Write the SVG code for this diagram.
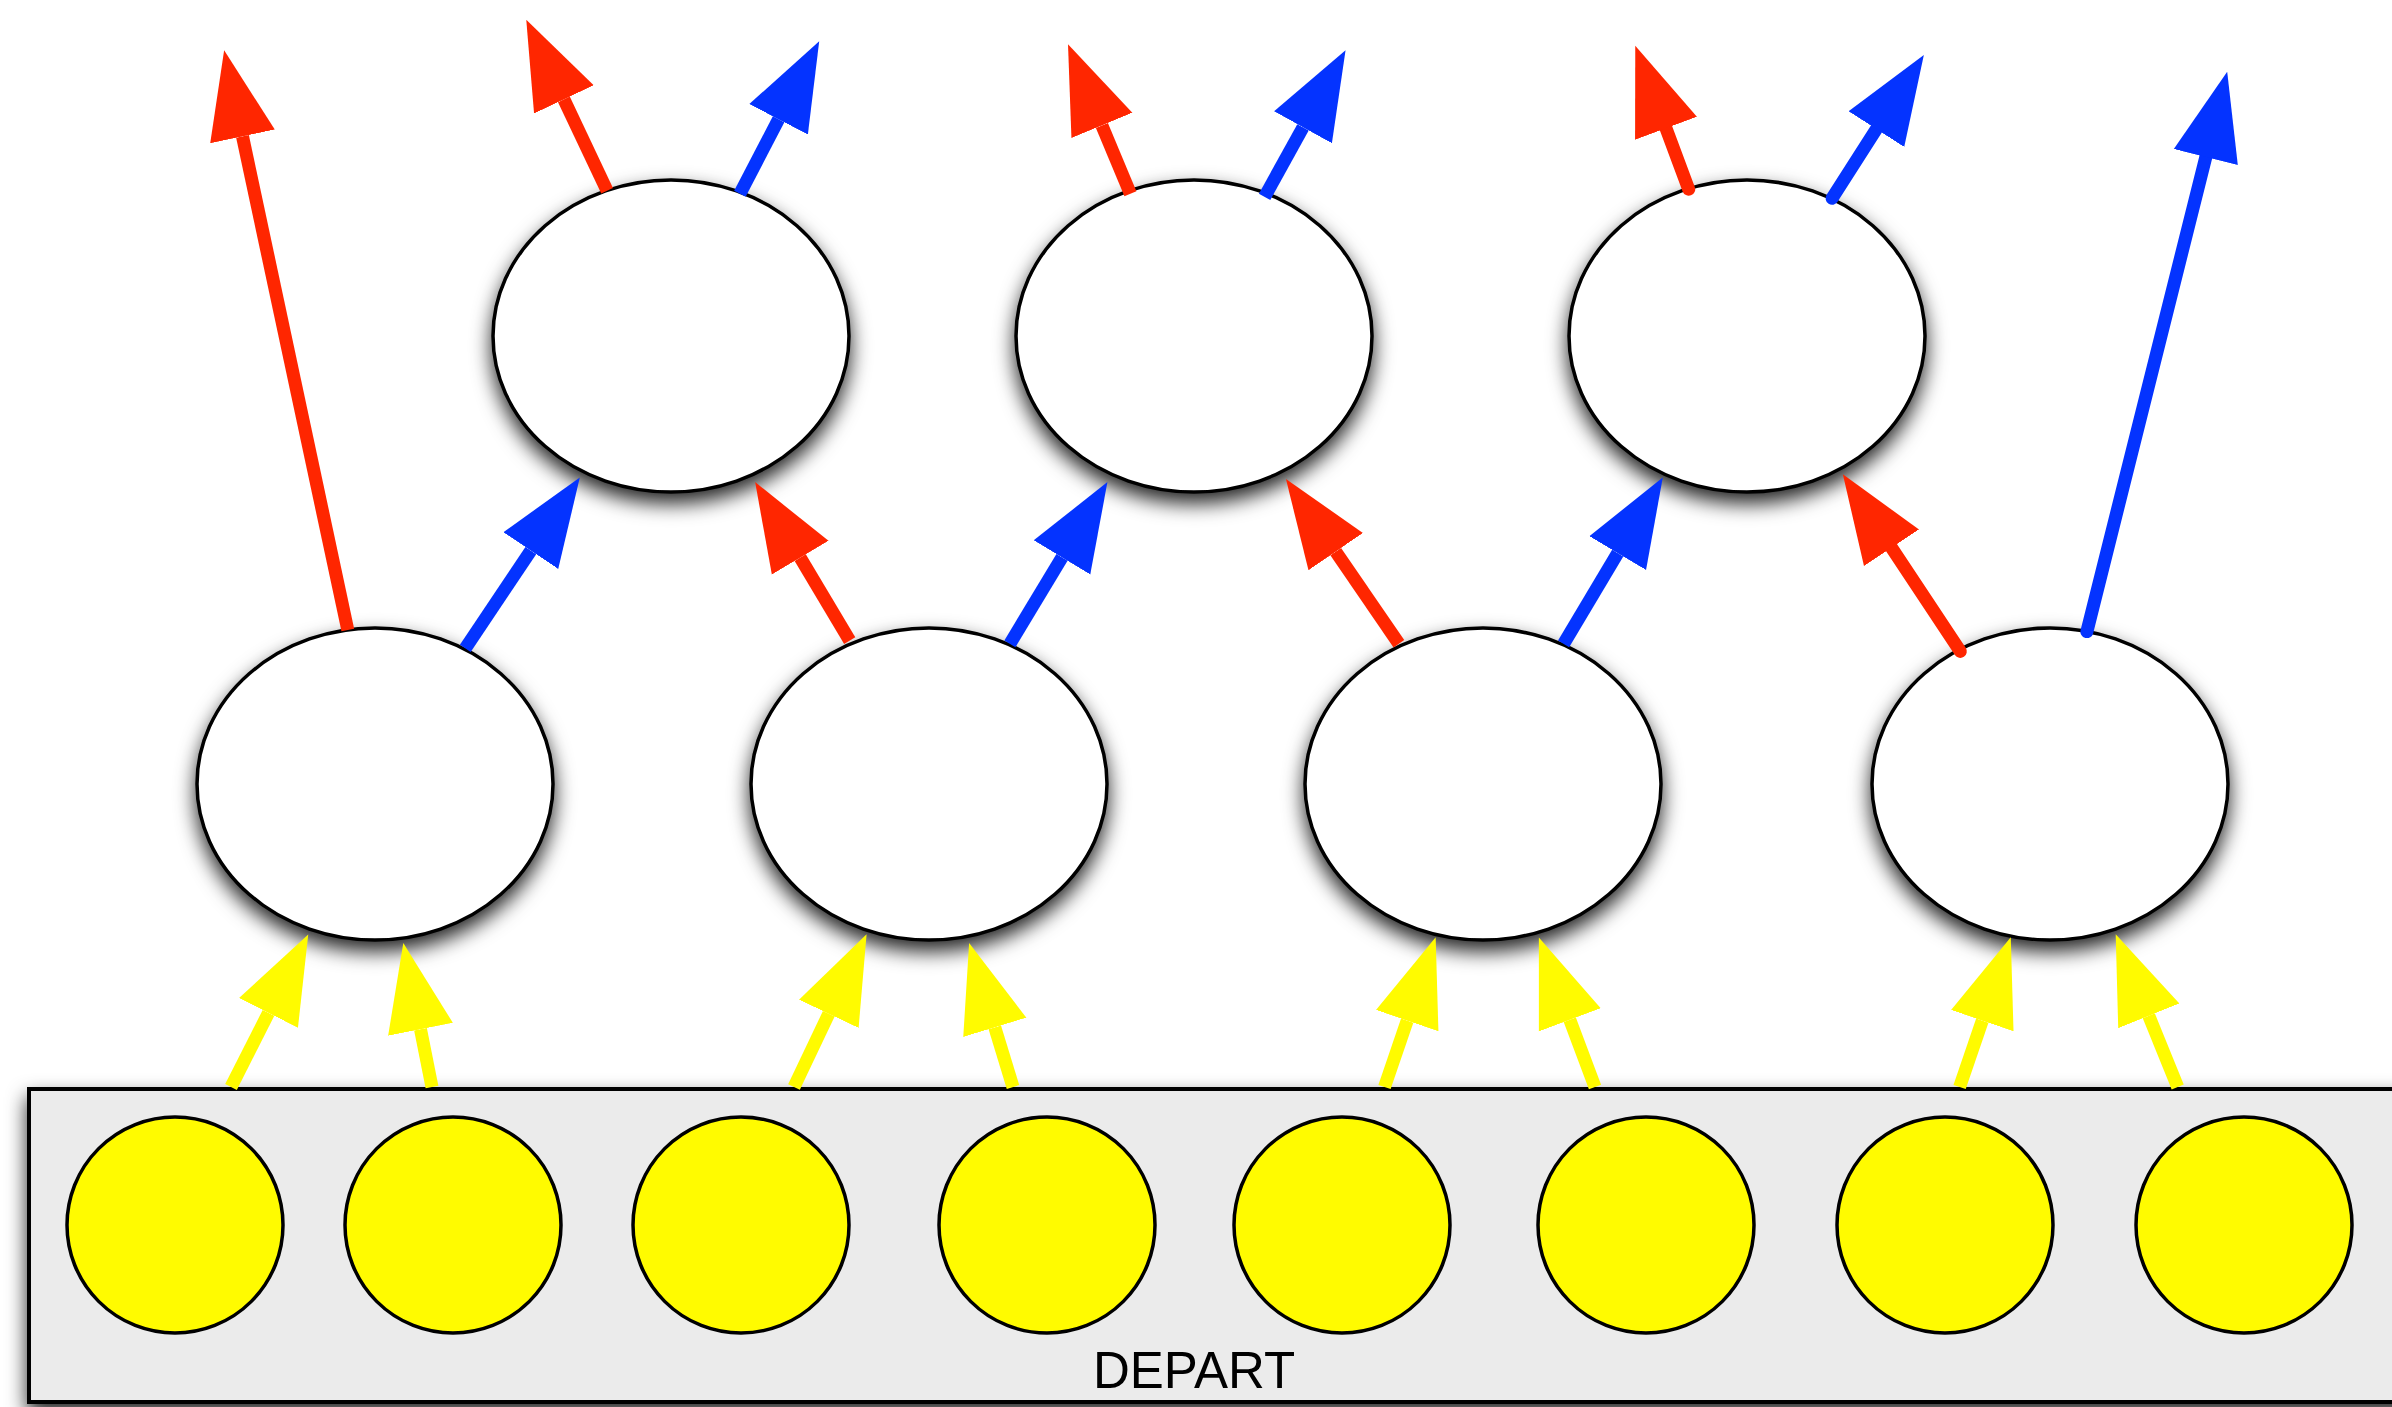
<svg xmlns="http://www.w3.org/2000/svg" width="2392" height="1407" viewBox="0 0 2392 1407">
<defs>
<filter id="sh" x="-20%" y="-20%" width="140%" height="150%">
<feDropShadow dx="0" dy="10" stdDeviation="10" flood-color="#000" flood-opacity="0.85"/>
</filter>
<marker id="hr" markerUnits="userSpaceOnUse" markerWidth="92" markerHeight="70" refX="0" refY="33" orient="auto" viewBox="0 0 92 66"><path d="M0,0 L88,33 L0,66 z" fill="#ff2600"/></marker>
<marker id="hb" markerUnits="userSpaceOnUse" markerWidth="92" markerHeight="70" refX="0" refY="33" orient="auto" viewBox="0 0 92 66"><path d="M0,0 L88,33 L0,66 z" fill="#0433ff"/></marker>
<marker id="hy" markerUnits="userSpaceOnUse" markerWidth="92" markerHeight="70" refX="0" refY="33" orient="auto" viewBox="0 0 92 66"><path d="M0,0 L88,33 L0,66 z" fill="#fffb00"/></marker>
</defs>
<style>
.node{fill:#fff;stroke:#000;stroke-width:3.5;filter:url(#sh)}
.in{fill:#fffb00;stroke:#000;stroke-width:3.5}
.box{fill:#ebebeb;stroke:#000;stroke-width:4;filter:url(#sh)}
.r{stroke:#ff2600;stroke-width:13;fill:none;marker-end:url(#hr)}
.b{stroke:#0433ff;stroke-width:13;fill:none;marker-end:url(#hb)}
.y{stroke:#fffb00;stroke-width:13;fill:none;marker-end:url(#hy)}
.rc{stroke-linecap:round}
.lbl{font-family:"Liberation Sans",Arial,sans-serif;font-size:51px;fill:#000}
</style>
<g id="depart">
<rect class="box" x="29" y="1089" width="2400" height="313"/>
<text class="lbl" x="1194" y="1388" text-anchor="middle">DEPART</text>
</g>
<g id="inputs">
<circle id="in1" class="in" cx="175" cy="1225" r="108"/>
<circle id="in2" class="in" cx="453" cy="1225" r="108"/>
<circle id="in3" class="in" cx="741" cy="1225" r="108"/>
<circle id="in4" class="in" cx="1047" cy="1225" r="108"/>
<circle id="in5" class="in" cx="1342" cy="1225" r="108"/>
<circle id="in6" class="in" cx="1646" cy="1225" r="108"/>
<circle id="in7" class="in" cx="1945" cy="1225" r="108"/>
<circle id="in8" class="in" cx="2244" cy="1225" r="108"/>
</g>
<g id="m1"><ellipse class="node" cx="375" cy="784" rx="178" ry="156"/></g>
<g id="m2"><ellipse class="node" cx="929" cy="784" rx="178" ry="156"/></g>
<g id="m3"><ellipse class="node" cx="1483" cy="784" rx="178" ry="156"/></g>
<g id="m4"><ellipse class="node" cx="2050" cy="784" rx="178" ry="156"/></g>
<g id="t1"><ellipse class="node" cx="671" cy="336" rx="178" ry="156"/></g>
<g id="t2"><ellipse class="node" cx="1194" cy="336" rx="178" ry="156"/></g>
<g id="t3"><ellipse class="node" cx="1747" cy="336" rx="178" ry="156"/></g>
<g id="connectors">
<path class="y" d="M231,1087 L268.5,1012.9"/>
<path class="y" d="M432,1087 L420.5,1029.3"/>
<path class="y" d="M794,1087 L828.8,1013.8"/>
<path class="y" d="M1013,1087 L994.8,1027.3"/>
<path class="y" d="M1384.5,1087 L1407.2,1020.6"/>
<path class="y" d="M1595,1087 L1569.8,1019.8"/>
<path class="y" d="M1959.6,1087 L1982.3,1020.6"/>
<path class="y" d="M2177.7,1087 L2148.8,1015.8"/>
<path class="r" d="M347.8,630 L242.5,136.4"/>
<path class="b" d="M465.3,648.3 L530.8,550.6"/>
<path class="r" d="M849.7,640.7 L800.2,557.7"/>
<path class="b" d="M1009.9,643.8 L1062,557.4"/>
<path class="r" d="M1398.9,643.8 L1335.7,551.6"/>
<path class="b" d="M1563.6,643.8 L1617.7,553.1"/>
<path class="r rc" d="M1960.3,651.4 L1891.5,547.7"/>
<path class="b rc" d="M2086.9,631.6 L2205.8,157.1"/>
<path class="r" d="M607.1,190.7 L563.9,99.4"/>
<path class="b" d="M739.9,193.7 L778.6,119.3"/>
<path class="r" d="M1130.4,193.7 L1101.9,125.4"/>
<path class="b" d="M1264.6,196.8 L1303,127.3"/>
<path class="r rc" d="M1688.7,189.2 L1666,128.3"/>
<path class="b rc" d="M1832.1,198.3 L1876.4,129.1"/>
</g>
</svg>
